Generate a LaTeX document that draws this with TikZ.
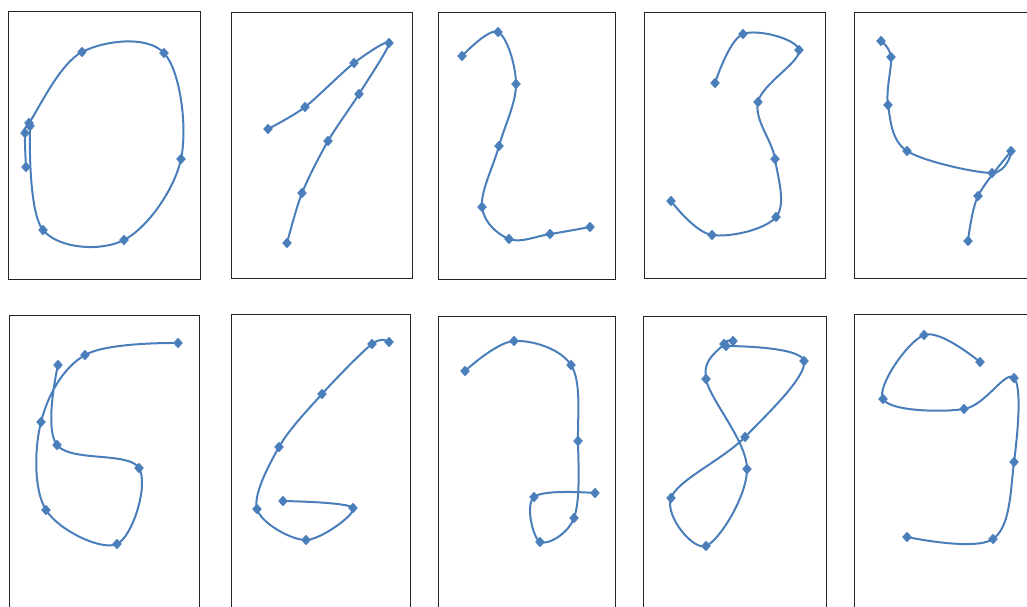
\documentclass[tikz,border=0pt]{standalone}
\usetikzlibrary{plotmarks}
\definecolor{strokeblue}{HTML}{4A7EBB}
\tikzset{
  panel/.style={draw=black!85, line width=0.9pt},
  digit/.style={draw=strokeblue, line width=2pt, line join=round, line cap=round,
    mark=diamond*, mark size=4.6pt,
    mark options={fill=strokeblue, draw=strokeblue, line width=0.8pt, solid, xscale=1.25}},
}
\begin{document}
\begin{tikzpicture}[x=1pt, y=-1pt]
\useasboundingbox (0,0) rectangle (1027,606);
\clip (0,0) rectangle (1027,606);
% frames
\draw[panel] (8,11) rectangle (200,279);
\draw[panel] (231,12) rectangle (412,278);
\draw[panel] (438,12) rectangle (615,279);
\draw[panel] (644,12) rectangle (825,278);
\draw[panel] (854,12) rectangle (1040,278);
\draw[panel] (9,315) rectangle (199,620);
\draw[panel] (231,314) rectangle (410,620);
\draw[panel] (438,316) rectangle (615,620);
\draw[panel] (643,316) rectangle (826,620);
\draw[panel] (854,314) rectangle (1040,620);
% 0
\draw[digit] plot[smooth, tension=0.6] coordinates {(26,167) (25,133) (29,123) (82,52) (164,53) (181,159) (124,240) (43,230) (30,126)};
% 1
\draw[digit] plot[smooth, tension=0.5] coordinates {(268,129) (305,107) (354,63) (389,43) (359,94) (328,141) (302,193) (287,243)};
% 2
\draw[digit] plot[smooth, tension=0.6] coordinates {(462,56) (498,32) (516,84) (499,146) (482,207) (509,239) (550,234) (590,227)};
% 3
\draw[digit] plot[smooth, tension=0.6] coordinates {(715,83) (743,34) (799,50) (758,102) (775,159) (776,217) (712,235) (671,201)};
% 4
\draw[digit] plot[smooth, tension=0.55] coordinates {(881,41) (891,57) (888,105) (907,151) (992,173) (1011,151) (978,196) (968,241)};
% 5
\draw[digit] plot[smooth, tension=0.6] coordinates {(178,343) (85,355) (41,422) (46,510) (117,544) (139,468) (57,445) (58,365)};
% 6
\draw[digit] plot[smooth, tension=0.55] coordinates {(389,342) (372,344) (322,394) (279,447) (257,509) (306,540) (353,508) (283,501)};
% 7
\draw[digit] plot[smooth, tension=0.6] coordinates {(465,371) (514,341) (571,365) (578,441) (574,518) (540,542) (534,497) (595,493)};
% 8
\draw[digit] plot[smooth, tension=0.6] coordinates {(733,341) (724,344) (706,379) (747,469) (706,546) (671,498) (745,437) (804,361) (726,346)};
% 9
\draw[digit] plot[smooth, tension=0.6] coordinates {(980,362) (924,335) (883,399) (964,409) (1014,378) (1014,462) (993,539) (907,537)};
\end{tikzpicture}
\end{document}
